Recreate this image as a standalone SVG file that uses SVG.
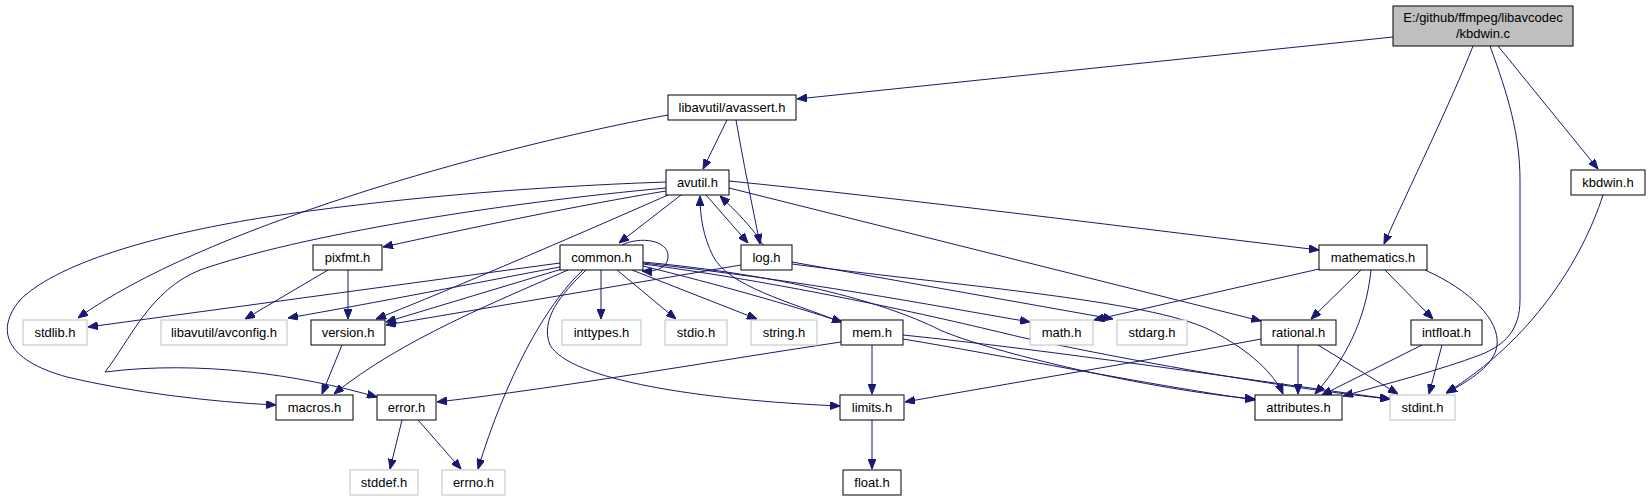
<svg xmlns="http://www.w3.org/2000/svg" width="1650" height="500" viewBox="0 0 1650 500">
<style>
.n rect{fill:#fff;stroke:#000;stroke-width:1}
.g rect{fill:#fff;stroke:#bfbfbf;stroke-width:1}
.m rect{fill:#bfbfbf;stroke:#000;stroke-width:1}
text{font-family:"Liberation Sans",Arial,sans-serif;font-size:13px;text-anchor:middle;fill:#000}
#edges path{fill:none;stroke:#191970;stroke-width:1;marker-end:url(#ah)}
</style>
<defs>
<marker id="ah" viewBox="0 0 10 8" markerWidth="10" markerHeight="8" refX="10" refY="4" orient="auto" markerUnits="userSpaceOnUse">
<path d="M0,0 L10,4 L0,8 z" fill="#191970" stroke="#191970" stroke-width="1"/>
</marker>
</defs>
<rect width="1650" height="500" fill="#fff"/>
<g id="edges">
<path d="M1393,37 L797,99"/>
<path d="M1473,46 C1452,100 1408,190 1384,244"/>
<path d="M1490,46 C1508,95 1520,135 1520,180 L1520,300 C1520,330 1505,345 1480,355 C1440,370 1390,383 1343,396"/>
<path d="M1498,46 L1598,169"/>
<path d="M1603,195 C1582,260 1532,340 1446,393"/>
<path d="M727,120 L703,169"/>
<path d="M736,120 C743,160 752,205 760,244"/>
<path d="M668,115 C480,150 200,230 78,318"/>
<path d="M681,195 L619,243"/>
<path d="M706,195 L748,243"/>
<path d="M763,245 C753,228 736,211 720,196"/>
<path d="M841,322 C790,302 728,286 713,256 C703,236 700,216 700,196"/>
<path d="M666,191 C580,205 470,228 383,247"/>
<path d="M668,195 C600,225 450,290 376,319"/>
<path d="M666,182 C520,187 380,200 267,217 C170,232 60,260 20,300 C-5,330 5,360 67,377 C130,392 210,402 276,405"/>
<path d="M666,188 C500,203 300,235 200,270 C150,290 130,340 105,372 C200,360 300,375 377,397"/>
<path d="M729,181 C900,198 1150,230 1319,250"/>
<path d="M729,188 L1261,321"/>
<path d="M328,270 L245,319"/>
<path d="M348,270 L348,319"/>
<path d="M342,345 L322,394"/>
<path d="M560,263 L88,327"/>
<path d="M560,267 C480,282 380,302 288,318"/>
<path d="M562,269 L386,322"/>
<path d="M741,265 L386,325"/>
<path d="M568,270 C500,300 400,340 334,394"/>
<path d="M601,270 L601,319"/>
<path d="M617,270 L676,319"/>
<path d="M632,270 L757,319"/>
<path d="M643,266 C720,285 790,305 842,322"/>
<path d="M583,270 C545,305 505,380 478,469"/>
<path d="M586,270 C560,295 540,320 550,345 C570,380 700,400 840,406"/>
<path d="M643,263 C800,280 930,305 1030,322"/>
<path d="M643,262 C780,275 880,300 940,330 C990,352 1150,390 1255,399"/>
<path d="M643,264 C800,285 950,320 1020,337 C1150,365 1300,390 1390,399"/>
<path d="M792,264 C950,285 1150,300 1210,330 C1250,350 1275,375 1283,394"/>
<path d="M792,262 L1113,319"/>
<path d="M872,345 L872,394"/>
<path d="M841,342 C720,360 560,388 437,402"/>
<path d="M903,339 C1000,355 1150,385 1255,400"/>
<path d="M903,335 C1050,350 1250,380 1390,399"/>
<path d="M872,420 L872,469"/>
<path d="M402,420 L390,469"/>
<path d="M418,420 L461,469"/>
<path d="M1319,269 L1094,320"/>
<path d="M1361,270 L1311,319"/>
<path d="M1371,270 C1366,320 1345,360 1315,394"/>
<path d="M1385,270 L1433,319"/>
<path d="M1425,270 C1470,290 1500,320 1497,345 C1495,365 1470,380 1447,393"/>
<path d="M1298,345 L1298,394"/>
<path d="M1318,345 L1398,394"/>
<path d="M1261,339 C1150,360 1000,385 905,402"/>
<path d="M1422,345 L1322,395"/>
<path d="M1442,345 L1429,394"/>
<path d="M622,245 C640,236 668,240 668,256 C668,268 656,272 642,271"/>
</g>
<g id="kbdwin_c" class="m"><rect x="1393" y="6" width="180" height="40"/><text x="1483" y="22">E:/github/ffmpeg/libavcodec</text><text x="1483" y="38">/kbdwin.c</text></g>
<g id="avassert_h" class="n"><rect x="668" y="95" width="128" height="25"/><text x="732" y="112">libavutil/avassert.h</text></g>
<g id="avutil_h" class="n"><rect x="666" y="170" width="63" height="25"/><text x="697.5" y="187">avutil.h</text></g>
<g id="kbdwin_h" class="n"><rect x="1571" y="170" width="74" height="25"/><text x="1608" y="187">kbdwin.h</text></g>
<g id="pixfmt_h" class="n"><rect x="313" y="245" width="69" height="25"/><text x="347.5" y="262">pixfmt.h</text></g>
<g id="common_h" class="n"><rect x="560" y="245" width="83" height="25"/><text x="601.5" y="262">common.h</text></g>
<g id="log_h" class="n"><rect x="741" y="245" width="51" height="25"/><text x="766.5" y="262">log.h</text></g>
<g id="mathematics_h" class="n"><rect x="1319" y="245" width="108" height="25"/><text x="1373" y="262">mathematics.h</text></g>
<g id="stdlib_h" class="g"><rect x="23" y="320" width="64" height="25"/><text x="55" y="337">stdlib.h</text></g>
<g id="avconfig_h" class="g"><rect x="161" y="320" width="126" height="25"/><text x="224" y="337">libavutil/avconfig.h</text></g>
<g id="version_h" class="n"><rect x="311" y="320" width="74" height="25"/><text x="348" y="337">version.h</text></g>
<g id="inttypes_h" class="g"><rect x="562" y="320" width="79" height="25"/><text x="601.5" y="337">inttypes.h</text></g>
<g id="stdio_h" class="g"><rect x="665" y="320" width="62" height="25"/><text x="696" y="337">stdio.h</text></g>
<g id="string_h" class="g"><rect x="751" y="320" width="66" height="25"/><text x="784" y="337">string.h</text></g>
<g id="mem_h" class="n"><rect x="841" y="320" width="62" height="25"/><text x="872" y="337">mem.h</text></g>
<g id="math_h" class="g"><rect x="1030" y="320" width="63" height="25"/><text x="1061.5" y="337">math.h</text></g>
<g id="stdarg_h" class="g"><rect x="1117" y="320" width="70" height="25"/><text x="1152" y="337">stdarg.h</text></g>
<g id="rational_h" class="n"><rect x="1261" y="320" width="75" height="25"/><text x="1298.5" y="337">rational.h</text></g>
<g id="intfloat_h" class="n"><rect x="1411" y="320" width="71" height="25"/><text x="1446.5" y="337">intfloat.h</text></g>
<g id="macros_h" class="n"><rect x="276" y="395" width="77" height="25"/><text x="314.5" y="412">macros.h</text></g>
<g id="error_h" class="n"><rect x="377" y="395" width="59" height="25"/><text x="406.5" y="412">error.h</text></g>
<g id="limits_h" class="n"><rect x="840" y="395" width="64" height="25"/><text x="872" y="412">limits.h</text></g>
<g id="attributes_h" class="n"><rect x="1255" y="395" width="87" height="25"/><text x="1298.5" y="412">attributes.h</text></g>
<g id="stdint_h" class="g"><rect x="1390" y="395" width="65" height="25"/><text x="1422.5" y="412">stdint.h</text></g>
<g id="stddef_h" class="g"><rect x="350" y="470" width="68" height="25"/><text x="384" y="487">stddef.h</text></g>
<g id="errno_h" class="g"><rect x="442" y="470" width="63" height="25"/><text x="473.5" y="487">errno.h</text></g>
<g id="float_h" class="n"><rect x="843" y="470" width="58" height="25"/><text x="872" y="487">float.h</text></g>
</svg>
